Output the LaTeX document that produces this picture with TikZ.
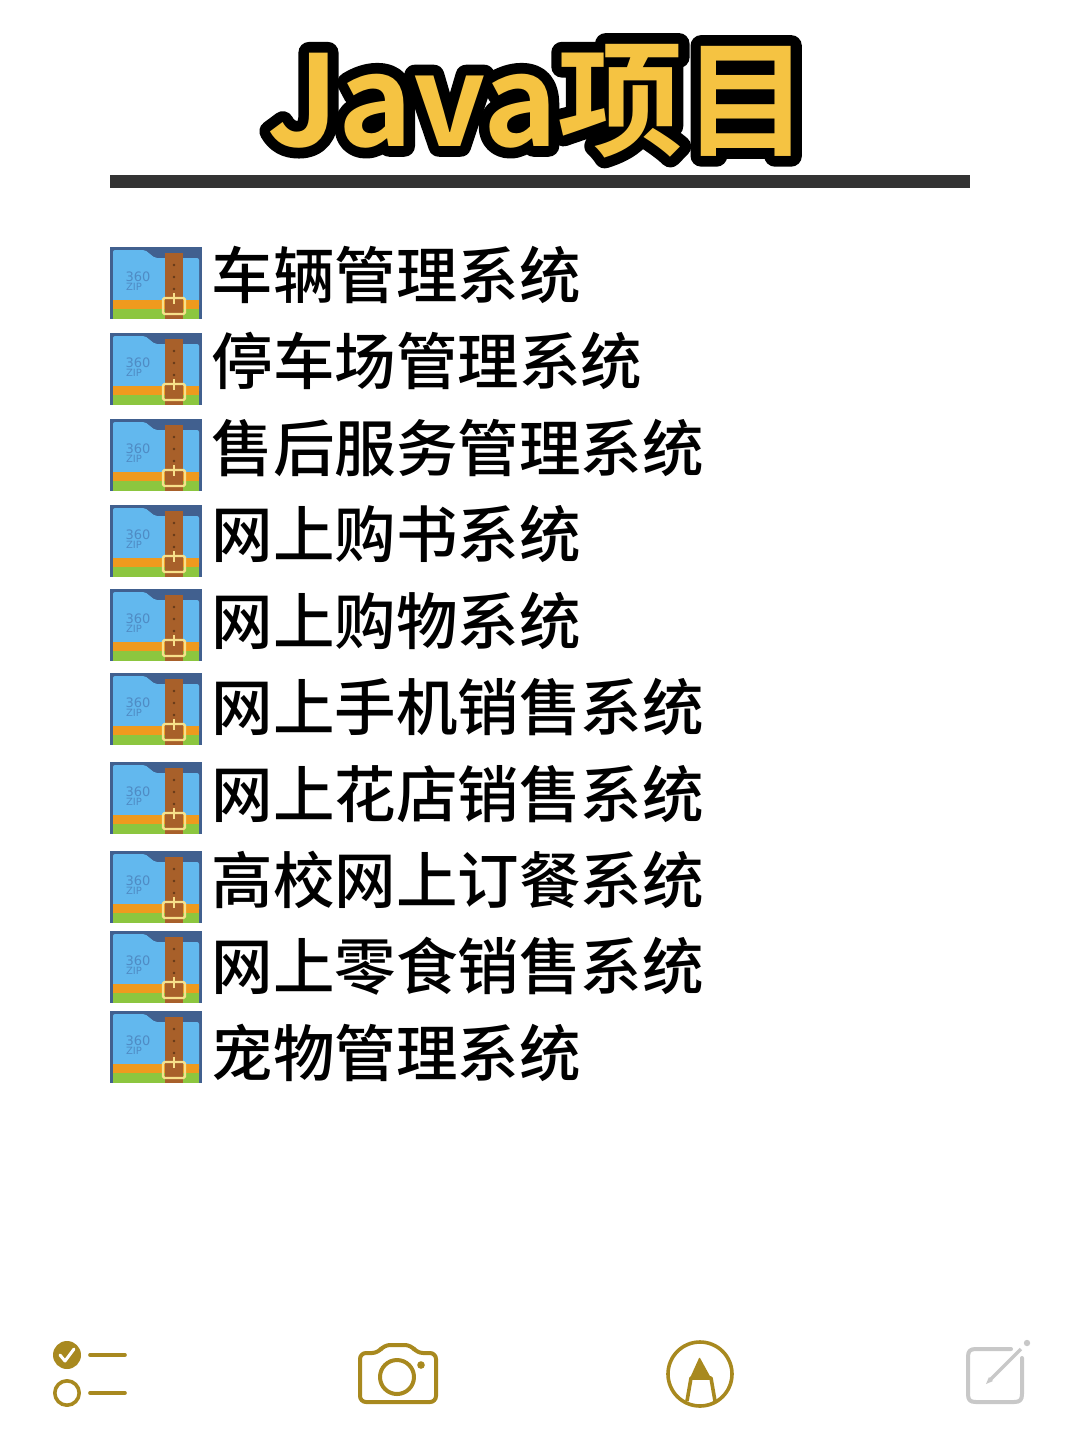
\documentclass[tikz,border=0pt]{standalone}
\usepackage{fontspec}
\setmainfont{Noto Sans CJK SC}
\newfontfamily\cjkrow{Noto Sans CJK SC Medium}
\newfontfamily\titleback[FakeBold=17]{Noto Sans CJK SC Bold}
\newfontfamily\titlefront{Noto Sans CJK SC Bold}
\newfontfamily\zipfont{DejaVu Sans}
\definecolor{gold}{HTML}{A8891F}
\definecolor{softgrey}{HTML}{C8C8C8}
\definecolor{barcol}{HTML}{333333}
\definecolor{titleyellow}{HTML}{F5C342}
\definecolor{icondark}{HTML}{41608F}
\definecolor{iconblue}{HTML}{62B8EE}
\definecolor{iconorange}{HTML}{EF9A1E}
\definecolor{icongreen}{HTML}{8CC63F}
\definecolor{iconbrown}{HTML}{A8602A}
\definecolor{iconbuckle}{HTML}{F7E08A}
\definecolor{iconzip}{HTML}{4F8BC4}
\tikzset{
  rowtext/.style={anchor=west,inner sep=0pt,font=\cjkrow\fontsize{61.5}{61.5}\selectfont,text=black},
  goldline/.style={draw=gold,line width=3.6pt,line cap=round,line join=round},
  greyline/.style={draw=softgrey,line width=4pt,line cap=round,line join=round},
  zipicon/.pic={
    \fill[icondark] (0,0) rectangle (92,72);
    \fill[iconblue,rounded corners=2pt] (3,3) -- (35,3) -- (45,11) -- (89,11) -- (89,60) -- (3,60) -- cycle;
    \fill[iconorange] (3,53) rectangle (89,62);
    \fill[icongreen] (3,62) rectangle (89,72);
    \fill[iconbrown] (55,6) rectangle (73,72);
    \foreach \d in {18,30,42}{\fill[iconbrown!60!black] (64,\d) circle (1.3);}
    \draw[iconbuckle,line width=2.4pt,rounded corners=1.5pt] (53,51) rectangle (75,67);
    \draw[iconbuckle,line width=2.6pt] (64,46) -- (64,57);
    \node[font=\zipfont\fontsize{13}{13}\selectfont,text=iconzip,inner sep=0pt] (-z1) at (28,30) {360};
    \node[font=\zipfont\fontsize{10}{10}\selectfont,text=iconzip,inner sep=0pt] (-z2) at (24,40) {ZIP};
  }
}
\begin{document}
\begin{tikzpicture}[x=1pt,y=-1pt]
\useasboundingbox (0,0) rectangle (1080,1440);
\fill[white] (0,0) rectangle (1080,1440);
% title
\node[anchor=base west,inner sep=0pt,text=black,font=\titleback\fontsize{126}{126}\selectfont] (titleb) at (267,146) {\special{pdf:code 1 j 1 J}Java项目};
\node[anchor=base west,inner sep=0pt,text=titleyellow,font=\titlefront\fontsize{126}{126}\selectfont] (titlef) at (267,146) {Java项目};
\fill[barcol] (110,175) rectangle (970,188);
% icons
\foreach \n/\yy in {a/247,b/333,c/419,d/505,e/589,f/673,g/762,h/851,i/931,j/1011}{
  \pic (icon\n) at (110,\yy) {zipicon};
}
% rows
\node[rowtext] (r1) at (211.5,275) {车辆管理系统};
\node[rowtext] (r2) at (211.5,361) {停车场管理系统};
\node[rowtext] (r3) at (211.5,448) {售后服务管理系统};
\node[rowtext] (r4) at (211.5,534) {网上购书系统};
\node[rowtext] (r5) at (211.5,621) {网上购物系统};
\node[rowtext] (r6) at (211.5,707) {网上手机销售系统};
\node[rowtext] (r7) at (211.5,794) {网上花店销售系统};
\node[rowtext] (r8) at (211.5,880) {高校网上订餐系统};
\node[rowtext] (r9) at (211.5,966) {网上零食销售系统};
\node[rowtext] (r10) at (211.5,1053) {宠物管理系统};
% checklist
\fill[gold] (67,1355) circle (14);
\draw[white,line width=3pt,line cap=round,line join=round] (60,1355) -- (65,1361) -- (74,1349);
\draw[goldline] (67,1393) circle (12.2);
\draw[goldline] (90,1355) -- (125,1355);
\draw[goldline] (90,1393) -- (125,1393);
% camera
\draw[goldline,line width=4pt,rounded corners=6pt] (360,1353) -- (378,1353) -- (384,1345) -- (411,1345) -- (417,1353) -- (436,1353) -- (436,1402) -- (360,1402) -- cycle;
\draw[goldline,line width=4pt] (397,1377) circle (17);
\fill[gold] (421,1365) circle (3.8);
% marker
\draw[goldline] (700,1374) circle (32);
\draw[goldline,line cap=butt] (687,1401) -- (691,1378) -- (711,1378) -- (715,1401);
\fill[gold,rounded corners=1pt] (699.5,1357) -- (690,1378) -- (711,1378) -- cycle;
% edit
\draw[greyline] (1011,1349) -- (976,1349) .. controls (970,1349) and (968,1351) .. (968,1357) -- (968,1394) .. controls (968,1400) and (970,1402) .. (976,1402) -- (1014,1402) .. controls (1020,1402) and (1022,1400) .. (1022,1394) -- (1022,1358);
\draw[softgrey,line width=3.4pt] (989,1381) -- (1021,1349);
\fill[softgrey] (986,1384) -- (989,1377) -- (993,1381) -- cycle;
\fill[softgrey] (1027,1343) circle (3.2);
\end{tikzpicture}
\end{document}
